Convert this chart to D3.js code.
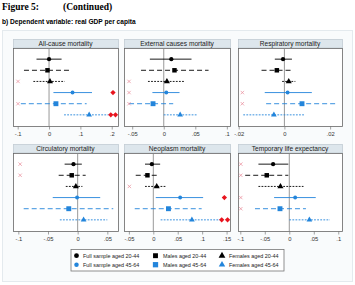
<!DOCTYPE html>
<html><head><meta charset="utf-8">
<script src="https://cdn.jsdelivr.net/npm/d3@7"></script>
<style>body{margin:0;background:#fff}svg{display:block}</style>
</head><body>
<script>
const panelTitles = ["All-cause mortality","External causes mortality","Respiratory mortality","Circulatory mortality","Neoplasm mortality","Temporary life expectancy"];
const seriesLabels = ["Full sample aged 20-44","Males aged 20-44","Females aged 20-44","Full sample aged 45-64","Males aged 45-64","Females aged 45-64"];
// point estimates per panel, rows in series order
const estAllCause   = [0.000, -0.005, 0.003, 0.075, 0.022, 0.128];
const loAllCause    = [-0.040, -0.080, -0.050, 0.014, -0.090, 0.048];
const hiAllCause    = [0.040, 0.070, 0.050, 0.137, 0.120, 0.190];
const estExternal   = [0.012, 0.017, 0.005, 0.004, -0.017, 0.026];
const loExternal    = [-0.022, -0.036, -0.025, -0.018, -0.055, 0.000];
const hiExternal    = [0.044, 0.071, 0.033, 0.025, 0.015, 0.052];
const estRespir     = [-0.0006, -0.0033, 0.0019, 0.0014, 0.0077, -0.0046];
const loRespir      = [-0.0042, -0.0100, -0.0010, -0.0086, -0.0080, -0.0180];
const hiRespir      = [0.0033, 0.0038, 0.0048, 0.0120, 0.0233, 0.0091];
const estCirc       = [-0.007, -0.010, -0.003, -0.001, -0.015, 0.010];
const loCirc        = [-0.022, -0.032, -0.020, -0.042, -0.091, -0.030];
const hiCirc        = [0.007, 0.0135, 0.008, 0.038, 0.060, 0.050];
const estNeo        = [-0.003, -0.012, 0.007, 0.055, 0.031, 0.079];
const loNeo         = [-0.017, -0.036, -0.017, 0.005, -0.038, 0.015];
const hiNeo         = [0.014, 0.012, 0.027, 0.102, 0.099, 0.137];
const estLife       = [-0.033, -0.046, -0.018, 0.012, -0.019, 0.041];
const loLife        = [-0.063, -0.090, -0.063, -0.031, -0.070, 0.000];
const hiLife        = [-0.002, -0.002, 0.029, 0.054, 0.034, 0.083];
// red "x" flags: row index per panel, x position
const crossRows = [[2,4],[2,3,4],[3,4],[0,1],[2],[0,1,3,4]];
const crossX    = [-0.099, -0.055, -0.0184, -0.097, -0.049, -0.099];
// red diamonds: [row, x]
const diamonds  = [[[3,0.204],[5,0.197],[5,0.212]],[],[],[],[[3,0.1455],[5,0.140],[5,0.152]],[]];
const xDomains = [[-0.115,0.22],[-0.063,0.105],[-0.0203,0.0252],[-0.109,0.068],[-0.060,0.157],[-0.1047,0.1076]];
const xTicks = [[-0.1,0,0.1,0.2],[-0.05,0,0.05,0.1],[-0.02,0,0.02],[-0.1,-0.05,0,0.05],[-0.05,0,0.05,0.1,0.15],[-0.1,-0.05,0,0.05,0.1]];

const ests=[estAllCause,estExternal,estRespir,estCirc,estNeo,estLife];
const los=[loAllCause,loExternal,loRespir,loCirc,loNeo,loLife];
const his=[hiAllCause,hiExternal,hiRespir,hiCirc,hiNeo,hiLife];

const W=355,H=285;
const svg=d3.select("body").append("svg").attr("width",W).attr("height",H);
svg.append("text").attr("x",2).attr("y",10).attr("font-family","Liberation Serif, serif").attr("font-weight","bold").attr("font-size",9.5).text("Figure 5:");
svg.append("text").attr("x",63).attr("y",10).attr("font-family","Liberation Serif, serif").attr("font-weight","bold").attr("font-size",9.5).text("(Continued)");
svg.append("text").attr("x",2).attr("y",24).attr("font-family","Liberation Sans, Arial, sans-serif").attr("font-weight","bold").attr("font-size",6.6).text("b) Dependent variable: real GDP per capita");

svg.append("rect").attr("x",2.5).attr("y",30.5).attr("width",350).attr("height",251).attr("fill","#f9fbfc").attr("stroke","#e4eaee");

const colX=[[13,118],[124,230],[238,342]];
const rowY=[[48,126],[153,231]];
const colors=["#000","#000","#000","#2385db","#2385db","#2385db"];
const dashes=[null,"5,3","1.8,1.3",null,"5,3","1.8,1.3"];
const shapes=[d3.symbolCircle,d3.symbolSquare,d3.symbolTriangle,d3.symbolCircle,d3.symbolSquare,d3.symbolTriangle];
const sizes=[14,20,16,12,24,14];
const font="Liberation Sans, Arial, sans-serif";
const fmt=v=>{let s=String(+v.toFixed(4));return s.replace(/^(-?)0\./,"$1.");};

for(let p=0;p<6;p++){
  const c=p%3, r=Math.floor(p/3);
  const [x0,x1]=colX[c], [y0,y1]=rowY[r];
  const g=svg.append("g");
  const x=d3.scaleLinear().domain(xDomains[p]).range([x0,x1]);
  const y=d3.scaleLinear().domain([0,7]).range([y0,y1]);
  g.append("rect").attr("x",x0+0.5).attr("y",y0-8.5).attr("width",x1-x0).attr("height",8.5).attr("fill","#dde6ec").attr("stroke","#c3cdd4").attr("stroke-width",0.8);
  g.append("text").attr("x",(x0+x1)/2).attr("y",y0-2).attr("text-anchor","middle").attr("font-family",font).attr("font-size",6.6).attr("fill","#222").text(panelTitles[p]);
  g.append("rect").attr("x",x0+0.5).attr("y",y0+0.5).attr("width",x1-x0).attr("height",y1-y0).attr("fill","#fff").attr("stroke","#666").attr("stroke-width",0.8);
  g.append("line").attr("x1",x(0)).attr("x2",x(0)).attr("y1",y0+1).attr("y2",y1).attr("stroke","#999").attr("stroke-width",1);
  const ax=d3.axisBottom(x).tickValues(xTicks[p]).tickSize(3).tickFormat(fmt);
  const axg=g.append("g").attr("transform",`translate(0,${y1+0.5})`).call(ax);
  axg.select(".domain").remove();
  axg.selectAll("line").attr("stroke","#666").attr("stroke-width",0.6);
  axg.selectAll("text").attr("font-family",font).attr("font-size",5.8).attr("fill","#333").attr("dy","0.55em");
  for(let i=0;i<6;i++){
    const yy=y(i+1);
    const ln=g.append("line").attr("x1",x(los[p][i])).attr("x2",x(his[p][i])).attr("y1",yy).attr("y2",yy).attr("stroke",colors[i]).attr("stroke-width",0.9);
    if(dashes[i]) ln.attr("stroke-dasharray",dashes[i]);
    g.append("path").attr("d",d3.symbol().type(shapes[i]).size(sizes[i])()).attr("transform",`translate(${x(ests[p][i])},${yy})`).attr("fill",colors[i]);
  }
  crossRows[p].forEach(i=>{
    g.append("path").attr("d",d3.symbol().type(d3.symbolX).size(9)()).attr("transform",`translate(${x(crossX[p])},${y(i+1)})`).attr("fill","none").attr("stroke","#e88a98").attr("stroke-width",0.7);
  });
  diamonds[p].forEach(([i,v])=>{
    g.append("path").attr("d",d3.symbol().type(d3.symbolSquare).size(14)()).attr("transform",`translate(${x(v)},${y(i+1)}) rotate(45)`).attr("fill","#e8141e");
  });
}

// legend
const lg=svg.append("g");
lg.append("rect").attr("x",71).attr("y",249.5).attr("width",213).attr("height",21.5).attr("fill","#fff").attr("stroke","#777").attr("stroke-width",0.8);
const lx=[[76.5,83],[155.5,163],[222,229]];
const ly=[255.7,264.7];
seriesLabels.forEach((s,i)=>{
  const c=i%3, r=Math.floor(i/3);
  lg.append("path").attr("d",d3.symbol().type(shapes[i]).size(sizes[i]+4)()).attr("transform",`translate(${lx[c][0]},${ly[r]})`).attr("fill",colors[i]);
  lg.append("text").attr("x",lx[c][1]).attr("y",ly[r]+2).attr("font-family",font).attr("font-size",5.4).attr("fill","#222").text(s);
});
</script>
</body></html>
